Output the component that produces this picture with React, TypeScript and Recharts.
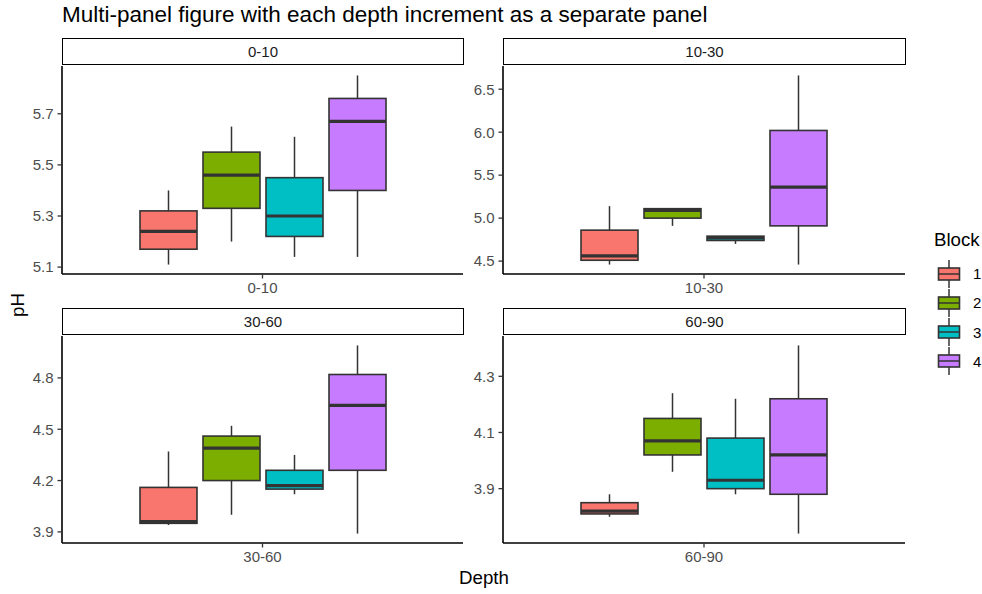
import React from "react";
import { ComposedChart, Bar, XAxis, YAxis } from "recharts";

// pH box stats, one row per depth, one value per block
const depths = ["0-10", "10-30", "30-60", "60-90"];
const blocks = ["1", "2", "3", "4"];
const blockColors = ["#F8766D", "#7CAE00", "#00BFC4", "#C77CFF"];

const whiskerLow = [
  [5.11, 5.2, 5.14, 5.14],
  [4.46, 4.91, 4.7, 4.46],
  [3.94, 4.0, 4.12, 3.89],
  [3.8, 3.96, 3.88, 3.74],
];
const quart1 = [
  [5.17, 5.33, 5.22, 5.4],
  [4.51, 5.0, 4.74, 4.91],
  [3.95, 4.2, 4.15, 4.26],
  [3.81, 4.02, 3.9, 3.88],
];
const medians = [
  [5.24, 5.46, 5.3, 5.67],
  [4.56, 5.09, 4.77, 5.36],
  [3.96, 4.39, 4.17, 4.64],
  [3.82, 4.07, 3.93, 4.02],
];
const quart3 = [
  [5.32, 5.55, 5.45, 5.76],
  [4.86, 5.11, 4.79, 6.02],
  [4.16, 4.46, 4.26, 4.82],
  [3.85, 4.15, 4.08, 4.22],
];
const whiskerHigh = [
  [5.4, 5.65, 5.61, 5.85],
  [5.14, 5.11, 4.79, 6.66],
  [4.37, 4.52, 4.35, 4.99],
  [3.88, 4.24, 4.22, 4.41],
];
const yTicks = [
  [5.1, 5.3, 5.5, 5.7],
  [4.5, 5.0, 5.5, 6.0, 6.5],
  [3.9, 4.2, 4.5, 4.8],
  [3.9, 4.1, 4.3],
];

const FONT = '"Liberation Sans", Arial, Helvetica, sans-serif';
const INK = "#333333";

// where each panel's plotting area sits on the page
const panelBoxes = [
  { left: 62, top: 66, w: 401, h: 208 },
  { left: 503, top: 66, w: 402, h: 208 },
  { left: 62, top: 336, w: 401, h: 207 },
  { left: 503, top: 336, w: 402, h: 207 },
];

const Y_AXIS_W = 45;
const X_AXIS_H = 32;

type Row = {
  depth: string;
  low: number[];
  q1: number[];
  med: number[];
  q3: number[];
  high: number[];
};

const BoxShape = (props: any) => {
  const { x, y, width, height, payload, idx } = props;
  if (x == null || y == null) return null;
  const row = payload as Row;
  const lo = row.low[idx];
  const hi = row.high[idx];
  const top = Math.min(y, y + height);
  const bottom = Math.max(y, y + height);
  const toY = (v: number) =>
    hi === lo ? top : bottom - ((bottom - top) * (v - lo)) / (hi - lo);
  const cx = x + width / 2;
  const yq1 = toY(row.q1[idx]);
  const yq3 = toY(row.q3[idx]);
  const ym = toY(row.med[idx]);
  return (
    <g>
      <line x1={cx} x2={cx} y1={toY(hi)} y2={yq3} stroke={INK} strokeWidth={1.5} />
      <line x1={cx} x2={cx} y1={yq1} y2={toY(lo)} stroke={INK} strokeWidth={1.5} />
      <rect
        x={x}
        y={yq3}
        width={width}
        height={Math.max(yq1 - yq3, 0.5)}
        fill={blockColors[idx]}
        stroke={INK}
        strokeWidth={1.6}
      />
      <line x1={x} x2={x + width} y1={ym} y2={ym} stroke={INK} strokeWidth={3.2} />
    </g>
  );
};

const Panel = ({ p }: { p: number }) => {
  const box = panelBoxes[p];
  const data: Row[] = [
    {
      depth: depths[p],
      low: whiskerLow[p],
      q1: quart1[p],
      med: medians[p],
      q3: quart3[p],
      high: whiskerHigh[p],
    },
  ];
  const mn = Math.min(...whiskerLow[p]);
  const mx = Math.max(...whiskerHigh[p]);
  const pad = (mx - mn) * 0.05;
  const pt = 2;
  return (
    <>
      <div
        style={{
          position: "absolute",
          left: box.left,
          top: box.top - 28,
          width: box.w - 1,
          height: 25,
          border: "1.5px solid #000",
          fontFamily: FONT,
          fontSize: 15,
          color: "#1A1A1A",
          textAlign: "center",
          lineHeight: "25px",
        }}
      >
        {depths[p]}
      </div>
      <div style={{ position: "absolute", left: box.left - Y_AXIS_W, top: box.top - pt }}>
        <ComposedChart
          width={Y_AXIS_W + box.w + 3}
          height={box.h + X_AXIS_H + pt}
          data={data}
          margin={{ top: pt, right: 3, bottom: 0, left: 0 }}
          barCategoryGap={78}
          barGap={6}
        >
          <XAxis
            dataKey="depth"
            type="category"
            height={X_AXIS_H}
            tickSize={4.5}
            tickMargin={4}
            axisLine={{ stroke: "#000", strokeWidth: 1.6 }}
            tickLine={{ stroke: INK, strokeWidth: 1.3 }}
            tick={{ fill: "#4D4D4D", fontSize: 15, fontFamily: FONT }}
          />
          <YAxis
            type="number"
            width={Y_AXIS_W}
            domain={[mn - pad, mx + pad]}
            ticks={yTicks[p]}
            allowDataOverflow
            tickFormatter={(v: number) => v.toFixed(1)}
            tickSize={4.5}
            tickMargin={4}
            axisLine={{ stroke: "#000", strokeWidth: 1.6 }}
            tickLine={{ stroke: INK, strokeWidth: 1.3 }}
            tick={{ fill: "#4D4D4D", fontSize: 15, fontFamily: FONT }}
          />
          {blocks.map((b, i) => (
            <Bar
              key={b}
              name={b}
              dataKey={(r: Row) => [r.low[i], r.high[i]]}
              fill={blockColors[i]}
              isAnimationActive={false}
              shape={(sp: any) => <BoxShape {...sp} idx={i} />}
            />
          ))}
        </ComposedChart>
      </div>
    </>
  );
};

const LegendKey = ({ color }: { color: string }) => (
  <svg width={24} height={28}>
    <line x1={12} x2={12} y1={0} y2={28} stroke={INK} strokeWidth={1.5} />
    <rect x={1.5} y={8} width={21} height={12} fill={color} stroke={INK} strokeWidth={1.6} />
    <line x1={1.5} x2={22.5} y1={14} y2={14} stroke={INK} strokeWidth={1.5} />
  </svg>
);

export default function App() {
  return (
    <div
      style={{
        position: "absolute",
        left: 0,
        top: 0,
        width: 982,
        height: 594,
        background: "#fff",
        fontFamily: FONT,
        overflow: "hidden",
      }}
    >
      <div style={{ position: "absolute", left: 62, top: 2, fontSize: 22.5, color: "#000" }}>
        Multi-panel figure with each depth increment as a separate panel
      </div>
      {depths.map((d, p) => (
        <Panel key={d} p={p} />
      ))}
      <div
        style={{
          position: "absolute",
          left: 18,
          top: 305,
          fontSize: 18.7,
          color: "#000",
          transform: "translate(-50%, -50%) rotate(-90deg)",
          whiteSpace: "nowrap",
        }}
      >
        pH
      </div>
      <div
        style={{
          position: "absolute",
          left: 484,
          top: 578,
          fontSize: 18.7,
          color: "#000",
          transform: "translate(-50%, -50%)",
        }}
      >
        Depth
      </div>
      <div style={{ position: "absolute", left: 934, top: 229, fontSize: 18.7, color: "#000" }}>
        Block
      </div>
      {blocks.map((b, i) => (
        <div
          key={b}
          style={{ position: "absolute", left: 937, top: 259.5 + 29.3 * i, height: 28, display: "flex", alignItems: "center" }}
        >
          <LegendKey color={blockColors[i]} />
          <span style={{ marginLeft: 12, fontSize: 15, color: "#000" }}>{b}</span>
        </div>
      ))}
    </div>
  );
}
